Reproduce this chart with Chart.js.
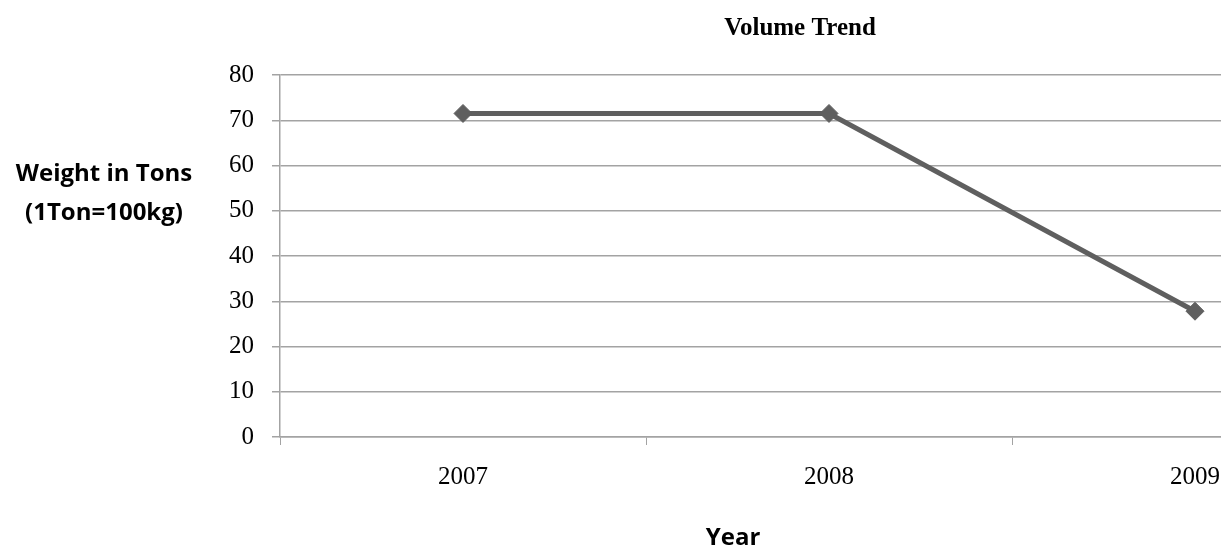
<!DOCTYPE html>
<html>
<head>
<meta charset="utf-8">
<script src="https://cdn.jsdelivr.net/npm/chart.js@4"></script>
<style>
  body { margin: 0; background: #fff; }
  #wrap { width: 1221px; height: 546px; overflow: hidden; }
</style>
</head>
<body>
<div id="wrap"><canvas id="volumeChart" width="1600" height="546"></canvas></div>
<script>
var years = ['2007', '2008', '2009'],
    volume = [71.5, 71.5, 27.8],
    yTicks = [0, 10, 20, 30, 40, 50, 60, 70, 80];

var lineGray = '#5f5f5f',
    gridGray = '#a3a3a3';

// title and axis titles are placed by hand, the y one is horizontal like the original
var chartTexts = {
    id: 'chartTexts',
    afterDraw: function (chart) {
        var ctx = chart.ctx, area = chart.chartArea;
        ctx.save();
        ctx.fillStyle = '#000';
        ctx.textAlign = 'center';
        ctx.textBaseline = 'alphabetic';
        ctx.font = 'bold 25px "Liberation Serif"';
        ctx.fillText('Volume Trend', 800, 35);
        ctx.font = 'bold 24px "Open Sans"';
        ctx.fillText('Weight in Tons', area.left - 176, area.top + 106);
        ctx.fillText('(1Ton=100kg)', area.left - 176, area.top + 145);
        ctx.fillText('Year', area.left + 453, 545);
        ctx.restore();
    }
};

new Chart($('volumeChart'), {
    type: 'line',
    data: {
        labels: years,
        datasets: [{
            label: 'Volume',
            data: volume,
            borderColor: lineGray,
            backgroundColor: lineGray,
            borderWidth: 5,
            pointStyle: 'rectRot',
            pointRadius: 9,
            pointBorderWidth: 1,
            tension: 0
        }]
    },
    options: {
        responsive: false,
        animation: false,
        layout: { padding: { left: 0, right: 222, top: 75, bottom: 0 } },
        plugins: {
            legend: { display: false },
            tooltip: { enabled: false },
            title: { display: false }
        },
        scales: {
            x: {
                offset: true,
                afterFit: function (scale) { scale.height = 109; },
                grid: {
                    offset: true,
                    drawOnChartArea: false,
                    tickLength: 8,
                    color: gridGray
                },
                border: { color: gridGray, width: 1.5 },
                ticks: {
                    color: '#000',
                    padding: 17,
                    font: { family: 'Liberation Serif', size: 25 }
                }
            },
            y: {
                min: yTicks[0],
                max: yTicks[yTicks.length - 1],
                afterFit: function (scale) { scale.width = 280; },
                afterBuildTicks: function (scale) {
                    scale.ticks = yTicks.map(function (v) { return { value: v }; });
                },
                grid: { color: gridGray, lineWidth: 1.5, tickLength: 8 },
                border: { color: gridGray, width: 1.5 },
                ticks: {
                    color: '#000',
                    padding: 18,
                    font: { family: 'Liberation Serif', size: 25 }
                }
            }
        }
    },
    plugins: [chartTexts]
});

function $(id) { return document.getElementById(id); }
</script>
</body>
</html>
